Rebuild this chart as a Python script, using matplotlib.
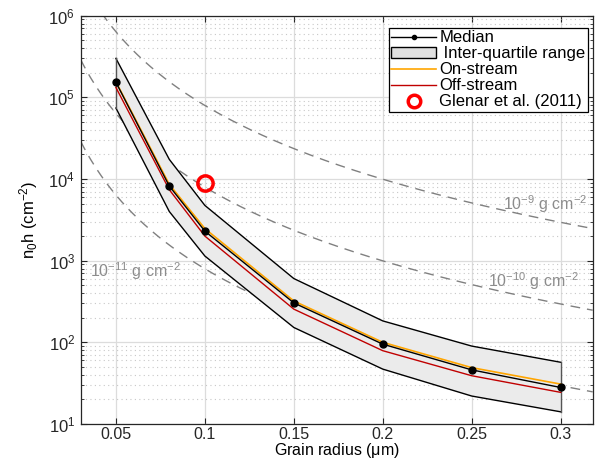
import numpy as np
import matplotlib
matplotlib.use("Agg")
import matplotlib.pyplot as plt
from matplotlib.patches import Patch
from matplotlib.lines import Line2D

plt.rcParams['font.family'] = ['Liberation Sans', 'DejaVu Sans']
plt.rcParams['mathtext.fontset'] = 'custom'
plt.rcParams['mathtext.rm'] = 'Liberation Sans'
plt.rcParams['mathtext.it'] = 'Liberation Sans:italic'
plt.rcParams['mathtext.default'] = 'regular'

# Data
radius = [0.05, 0.08, 0.1, 0.15, 0.2, 0.25, 0.3]
median = [1.53e5, 8.2e3, 2.3e3, 304, 95, 46, 28]
q_upper = [3.0e5, 1.74e4, 4.75e3, 604, 183, 90, 57]
q_lower = [7.4e4, 4.0e3, 1.14e3, 152, 47, 22, 14.1]
on_stream = [1.55e5, 8.6e3, 2.47e3, 321, 100, 49, 30.8]
off_stream = [1.32e5, 7.4e3, 2.0e3, 255, 79, 39, 24.4]
glenar_r = [0.1]
glenar_n = [9.0e3]
mass_levels = [1e-9, 1e-10, 1e-11]
mass_labels = [r'$10^{-9}$ g cm$^{-2}$', r'$10^{-10}$ g cm$^{-2}$', r'$10^{-11}$ g cm$^{-2}$']
label_pos = [(0.2676, 4.9e3), (0.259, 565), (0.0356, 748)]
grain_density = 3.0  # g cm^-3

fig = plt.figure(figsize=(5.97, 4.61), dpi=100)
ax = fig.add_axes([80.7/597, (461-424)/461, (592.7-80.7)/597, (424-15.7)/461])

xlim = (0.0302, 0.318)
ax.set_xlim(*xlim)
ax.set_yscale('log')
ax.set_ylim(10, 1e6)

# grid
ax.grid(True, which='major', color='#dcdcdc', lw=0.9, ls='-', zorder=0)
ax.yaxis.grid(True, which='minor', color='#c8c8c8', lw=0.8, ls=(0, (1, 3)), zorder=0)
ax.set_axisbelow(True)

# mass contour lines
rr = np.linspace(xlim[0], xlim[1], 300)
for M in mass_levels:
    n = M / (4.0 / 3.0 * np.pi * (rr * 1e-4) ** 3 * grain_density)
    ax.plot(rr, n, ls=(0, (7, 5)), color='#808080', lw=1.0, zorder=1)
for lab, (lx, ly) in zip(mass_labels, label_pos):
    ax.text(lx, ly, lab, color='#8c8c8c', fontsize=11.5, va='center', ha='left', zorder=2)

# IQR band
ax.fill_between(radius, q_lower, q_upper, facecolor='#ebebeb', edgecolor='none', zorder=2)
ax.plot(radius, q_upper, color='black', lw=1.0, zorder=3)
ax.plot(radius, q_lower, color='black', lw=1.0, zorder=3)
ax.plot([radius[0], radius[0]], [q_lower[0], q_upper[0]], color='#555555', lw=1.0, zorder=3)
ax.plot([radius[-1], radius[-1]], [q_lower[-1], q_upper[-1]], color='#555555', lw=1.0, zorder=3)

ax.plot(radius, on_stream, color='#ffa500', lw=1.2, zorder=4)
ax.plot(radius, off_stream, color='#c00000', lw=1.0, zorder=4)
ax.plot(radius, median, color='black', lw=1.0, marker='o', ms=5, zorder=5)
ax.plot(glenar_r, glenar_n, ls='none', marker='o', ms=11, mfc='none', mec='red', mew=2.5, zorder=6)

ax.set_xticks([0.05, 0.1, 0.15, 0.2, 0.25, 0.3])
ax.set_xticklabels(['0.05', '0.1', '0.15', '0.2', '0.25', '0.3'])
ax.tick_params(which='both', direction='in', top=True, right=True, labelsize=12, colors='#262626')
ax.tick_params(axis='x', labelsize=11.5, pad=2.5)
ax.tick_params(axis='y', pad=4)
ax.tick_params(which='major', length=4)
ax.tick_params(which='minor', length=2)
ax.xaxis.set_minor_locator(matplotlib.ticker.NullLocator())
for s in ax.spines.values():
    s.set_color('#262626')
    s.set_linewidth(0.9)

ax.set_xlabel(r'Grain radius ($\mu$m)', fontsize=11.5, labelpad=-1)
ax.set_ylabel(r'n$_0$h (cm$^{-2}$)', fontsize=12, labelpad=6)

handles = [
    Line2D([], [], color='black', lw=1.0, marker='o', ms=3),
    Patch(facecolor='#e0e0e0', edgecolor='black', lw=1.0),
    Line2D([], [], color='#ffa500', lw=1.2),
    Line2D([], [], color='#c00000', lw=1.0),
    Line2D([], [], ls='none', marker='o', ms=9, mfc='none', mec='red', mew=2.5),
]
labels = ['Median', ' Inter-quartile range', 'On-stream', 'Off-stream', 'Glenar et al. (2011)']
leg = ax.legend(handles, labels, loc='upper right', bbox_to_anchor=(0.991, 0.970), fontsize=12,
                frameon=True, fancybox=False, edgecolor='black', framealpha=1,
                borderpad=0.15, labelspacing=0.06, handlelength=2.7, handletextpad=0.2,
                borderaxespad=0)
leg.get_frame().set_linewidth(0.9)

fig.savefig('out.png', dpi=100)
